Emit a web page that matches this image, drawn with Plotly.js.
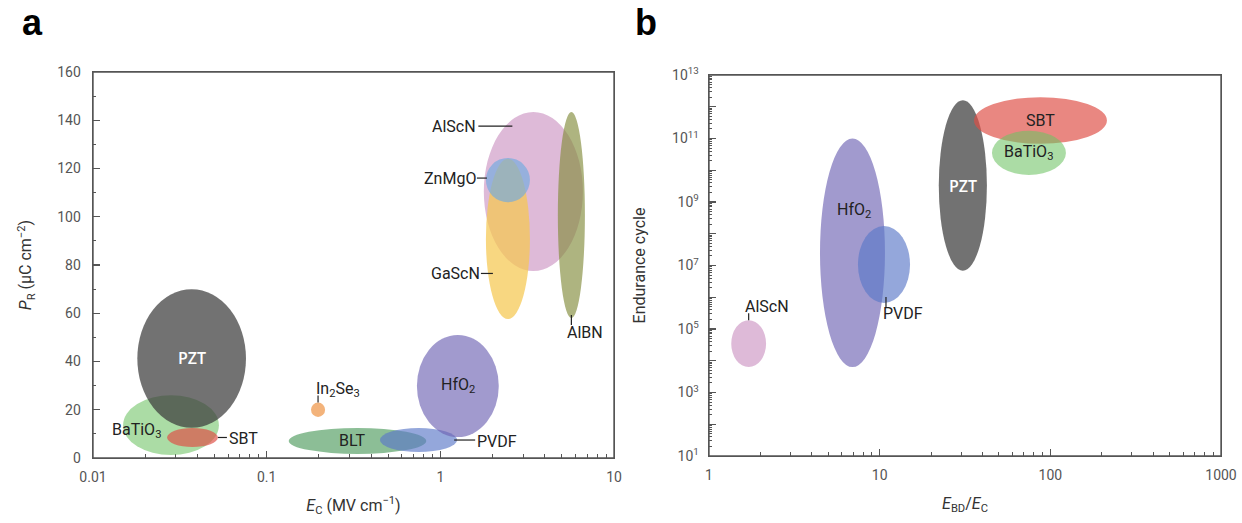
<!DOCTYPE html>
<html>
<head>
<meta charset="utf-8">
<script src="https://cdn.plot.ly/plotly-3.0.1.min.js"></script>
<style>
  html, body { margin: 0; padding: 0; background: #fff; }
  #chart { width: 1242px; height: 523px; }
</style>
</head>
<body>
<div id="chart"></div>
<script>
// ---- Panel a: coercive field E_C vs remanent polarization P_R (extent of each material) ----
const matA    = ['BaTiO3', 'PZT', 'SBT', 'In2Se3', 'BLT', 'PVDF', 'HfO2', 'AlScN', 'GaScN', 'ZnMgO', 'AlBN'];
const nameA   = ['BaTiO<sub>3</sub>', 'PZT', 'SBT', 'In<sub>2</sub>Se<sub>3</sub>', 'BLT', 'PVDF', 'HfO<sub>2</sub>', 'AlScN', 'GaScN', 'ZnMgO', 'AlBN'];
const ecLoA   = [0.0149, 0.018, 0.0267, 0.18, 0.134, 0.449, 0.733, 1.78, 1.83, 1.83, 4.75];   // MV/cm
const ecHiA   = [0.0531, 0.076, 0.0524, 0.217, 0.83, 1.25, 2.17, 6.62, 3.28, 3.28, 6.8];
const prLoA   = [1.2, 12.5, 4.6, 17, 1.7, 2.5, 8.7, 77.5, 57.6, 106, 58];                    // µC/cm²
const prHiA   = [26, 70, 12.4, 23, 12.4, 12.4, 51, 143.4, 124, 124.4, 143.4];

// ---- Panel b: E_BD/E_C ratio vs endurance cycles ----
const matB    = ['AlScN', 'HfO2', 'PVDF', 'PZT', 'SBT', 'BaTiO3'];
const nameB   = ['AlScN', 'HfO<sub>2</sub>', 'PVDF', 'PZT', 'SBT', 'BaTiO<sub>3</sub>'];
const ratioLoB = [1.35, 4.47, 7.46, 22.2, 35.7, 45.5];
const ratioHiB = [2.16, 10.74, 15.06, 42.5, 214.6, 123.4];
const cycLoB   = [6.3e3, 6.3e3, 6.6e5, 6.8e6, 6.8e10, 7.1e9];
const cycHiB   = [1.9e5, 1.0e11, 1.74e8, 1.6e12, 2.0e12, 1.74e11];

// endurance axis: a tick every decade, labelled every second one
const cycTickExp = [1, 2, 3, 4, 5, 6, 7, 8, 9, 10, 11, 12, 13];

// ---- Styling ----
const fills = {
  PZT:    'rgba(60,60,60,0.72)',
  BaTiO3: 'rgba(110,195,100,0.58)',
  SBT:    'rgba(222,78,70,0.68)',
  In2Se3: 'rgba(240,160,90,0.8)',
  BLT:    'rgba(70,150,85,0.62)',
  PVDF:   'rgba(90,120,200,0.65)',
  HfO2:   'rgba(110,100,180,0.65)',
  AlScN:  'rgba(200,140,190,0.6)',
  GaScN:  'rgba(245,200,80,0.72)',
  ZnMgO:  'rgba(110,170,225,0.65)',
  AlBN:   'rgba(130,140,60,0.65)'
};

// label placement: anchor point on the ellipse (c/l/r/t/b), pixel offset (screen, y down),
// text anchor and an optional leader line [x0,y0,x1,y1] in pixels from the anchor point
const placeA = {
  BaTiO3: {at: 'c', dx: -35, dy: 5},
  PZT:    {at: 'c', dx: 0, dy: 0, light: true},
  SBT:    {at: 'r', dx: 9, dy: 1, xa: 'left', lead: [0, 0, 9, 0]},
  In2Se3: {at: 't', dx: -4, dy: -13, xa: 'left', lead: [0, 0, 0, -7]},
  BLT:    {at: 'c', dx: -6, dy: 0},
  PVDF:   {at: 'r', dx: 18, dy: 1, xa: 'left', lead: [-3, 0, 18, 0]},
  HfO2:   {at: 'c', dx: 0, dy: 0},
  AlScN:  {at: 't', dx: -55, dy: 14, xa: 'right', lead: [-21, 14, -55, 14]},
  ZnMgO:  {at: 'l', dx: -8, dy: -2, xa: 'right', lead: [1, -2, -9, -2]},
  GaScN:  {at: 'l', dx: -4, dy: 34.5, xa: 'right', lead: [7, 34.5, -5, 34.5]},
  AlBN:   {at: 'b', dx: -6, dy: 14, xa: 'left', lead: [0, -3, 0, 7]}
};
const placeB = {
  AlScN:  {at: 't', dx: -6, dy: -14, xa: 'left', lead: [0, 0, 0, -7]},
  HfO2:   {at: 'c', dx: 2, dy: -42},
  PVDF:   {at: 'b', dx: -3, dy: 11, xa: 'left', lead: [2, -6, 2, 4]},
  PZT:    {at: 'c', dx: 0, dy: 0, light: true},
  SBT:    {at: 'c', dx: 0, dy: 0},
  BaTiO3: {at: 'c', dx: 0, dy: 0}
};

const FONT = 'Roboto, "Liberation Sans", Arial, sans-serif';
const AXC = '#555';

// subplot domains (paper fractions)
const domA = {x: [93 / 1242, 614 / 1242], y: [1 - 458 / 523, 1 - 72 / 523]};
const domB = {x: [709 / 1242, 1221 / 1242], y: [1 - 456 / 523, 1 - 75 / 523]};

const shapes = [];
const annotations = [];

function mid(lo, hi, isLog) { return isLog ? Math.sqrt(lo * hi) : (lo + hi) / 2; }

function addPanel(mats, names, xLo, xHi, yLo, yHi, place, xr, yr, xLog, yLog) {
  // filled ellipses
  mats.forEach((m, i) => {
    shapes.push({
      type: 'circle', xref: xr, yref: yr,
      x0: xLo[i], x1: xHi[i], y0: yLo[i], y1: yHi[i],
      fillcolor: fills[m], line: {width: 0}, layer: 'above'
    });
  });
  // labels and leader lines
  mats.forEach((m, i) => {
    const p = place[m];
    const cx = mid(xLo[i], xHi[i], xLog), cy = mid(yLo[i], yHi[i], yLog);
    let ax = cx, ay = cy;
    if (p.at === 'l') ax = xLo[i];
    if (p.at === 'r') ax = xHi[i];
    if (p.at === 't') ay = yHi[i];
    if (p.at === 'b') ay = yLo[i];
    if (p.lead) {
      const [a0, b0, a1, b1] = p.lead;
      shapes.push({
        type: 'path', xref: xr, yref: yr,
        xsizemode: 'pixel', ysizemode: 'pixel', xanchor: ax, yanchor: ay,
        path: 'M' + a0 + ',' + (-b0) + 'L' + a1 + ',' + (-b1),
        line: {color: '#222', width: 1.2}, layer: 'above'
      });
    }
    annotations.push({
      xref: xr, yref: yr,
      x: xLog ? Math.log10(ax) : ax,
      y: yLog ? Math.log10(ay) : ay,
      xshift: p.dx, yshift: -p.dy,
      xanchor: p.xa || 'center', yanchor: 'middle',
      text: names[i], showarrow: false,
      font: p.light ? {family: '"Open Sans", Roboto, sans-serif', size: 16, color: '#ffffff', weight: 600}
                    : {family: FONT, size: 16, color: '#222'}
    });
  });
}

addPanel(matA, nameA, ecLoA, ecHiA, prLoA, prHiA, placeA, 'x', 'y', true, false);
addPanel(matB, nameB, ratioLoB, ratioHiB, cycLoB, cycHiB, placeB, 'x2', 'y2', true, true);

// plot frames around each panel
[domA, domB].forEach(d => {
  shapes.push({type: 'rect', xref: 'paper', yref: 'paper',
    x0: d.x[0], x1: d.x[1], y0: d.y[0], y1: d.y[1],
    line: {color: AXC, width: 1.4}, fillcolor: 'rgba(0,0,0,0)', layer: 'above'});
});

// panel letters
annotations.push({xref: 'paper', yref: 'paper', x: 0.0165, y: 1.0, xanchor: 'left', yanchor: 'top',
  text: '<b>a</b>', showarrow: false, font: {family: '"Liberation Sans", Arial, sans-serif', size: 36, color: '#000'}});
annotations.push({xref: 'paper', yref: 'paper', x: 0.5095, y: 1.0, xanchor: 'left', yanchor: 'top',
  text: '<b>b</b>', showarrow: false, font: {family: '"Liberation Sans", Arial, sans-serif', size: 36, color: '#000'}});

const axBase = {
  showgrid: false, zeroline: false, showline: true, mirror: true,
  linecolor: AXC, linewidth: 1.4,
  ticks: 'inside', ticklen: 7, tickwidth: 1.2, tickcolor: AXC,
  tickfont: {family: FONT, size: 14, color: '#555'},
  automargin: false
};
const titleFont = {family: FONT, size: 16, color: '#333'};

const layout = {
  width: 1242, height: 523,
  margin: {l: 0, r: 0, t: 0, b: 0},
  paper_bgcolor: '#fff', plot_bgcolor: '#fff',
  showlegend: false,
  xaxis: Object.assign({}, axBase, {
    domain: domA.x, anchor: 'y',
    type: 'log', range: [-2, 1], dtick: 1, ticklabelstandoff: 6,
    minor: {ticks: 'inside', ticklen: 4, dtick: 'D1', tickcolor: AXC, tickwidth: 1},
    title: {text: '<i>E</i><sub>C</sub> (MV cm<sup>−1</sup>)', font: titleFont, standoff: 15}
  }),
  yaxis: Object.assign({}, axBase, {
    domain: domA.y, anchor: 'x',
    range: [0, 160], dtick: 20, ticklabelstandoff: 8,
    minor: {ticks: 'inside', ticklen: 3, dtick: 10, tickcolor: AXC, tickwidth: 1},
    title: {text: '<i>P</i><sub>R</sub> (µC cm<sup>−2</sup>)', font: titleFont, standoff: 21}
  }),
  xaxis2: Object.assign({}, axBase, {
    domain: domB.x, anchor: 'y2',
    type: 'log', range: [0, 3], dtick: 1, exponentformat: 'none', ticklabelstandoff: 6,
    minor: {ticks: 'inside', ticklen: 4, dtick: 'D1', tickcolor: AXC, tickwidth: 1},
    title: {text: '<i>E</i><sub>BD</sub>/<i>E</i><sub>C</sub>', font: titleFont, standoff: 15}
  }),
  yaxis2: Object.assign({}, axBase, {
    domain: domB.y, anchor: 'x2',
    type: 'log', range: [1, 13], ticklabelstandoff: 6,
    tickmode: 'array',
    tickvals: cycTickExp.map(e => Math.pow(10, e)),
    ticktext: cycTickExp.map(e => (e % 2 ? '10<sup>' + e + '</sup>' : '')),
    minor: {ticks: 'inside', ticklen: 3, dtick: 'D1', tickcolor: AXC, tickwidth: 1},
    title: {text: 'Endurance cycle', font: titleFont, standoff: 22}
  }),
  shapes: shapes,
  annotations: annotations
};

// empty traces so both subplots are created
const data = [
  {x: [], y: [], type: 'scatter', mode: 'markers', xaxis: 'x', yaxis: 'y', hoverinfo: 'skip'},
  {x: [], y: [], type: 'scatter', mode: 'markers', xaxis: 'x2', yaxis: 'y2', hoverinfo: 'skip'}
];

Plotly.newPlot('chart', data, layout, {displayModeBar: false, staticPlot: true});
</script>
</body>
</html>
